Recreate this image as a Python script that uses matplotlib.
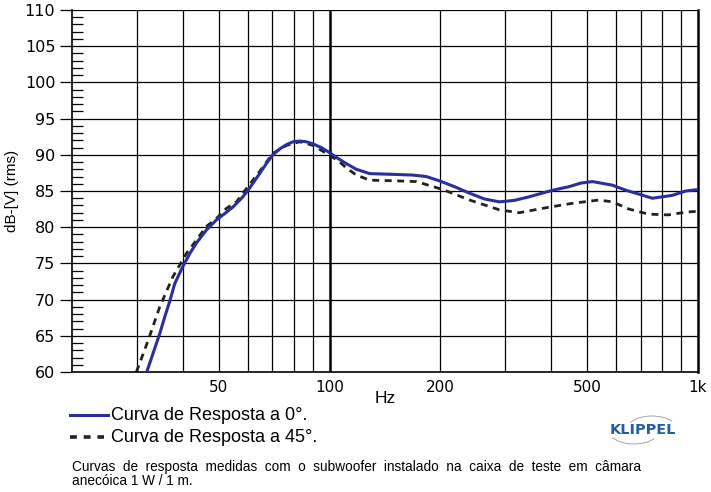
import matplotlib.pyplot as plt
import matplotlib.ticker as mticker
from matplotlib.patches import Arc

plt.rcParams['font.family'] = ['Liberation Sans', 'DejaVu Sans']

# curva a 0 graus
f0 = [31.9, 33.2, 34.6, 35.7, 36.9, 38.0, 39.9, 41.8, 43.5, 46.3, 49.3, 52.0,
      54.7, 57.7, 59.9, 62.0, 64.6, 67.4, 70.2, 73.2, 76.4, 79.6, 83.0, 86.5,
      90.2, 95.0, 100, 105.4, 110.9, 118.2, 128.5, 148.5, 168, 182.9, 198.8,
      218.3, 239.8, 263.2, 289, 317.3, 348, 403, 447, 481.2, 517, 586, 637.2,
      678, 752, 852, 926.4, 1000]
db0 = [60.0, 62.6, 65.3, 67.6, 69.9, 72.2, 74.5, 76.4, 77.8, 79.6, 81.0, 81.9,
       82.8, 84.0, 85.0, 86.1, 87.4, 88.8, 90.0, 90.8, 91.4, 91.8, 91.9, 91.8,
       91.5, 91.0, 90.3, 89.5, 88.8, 88.0, 87.4, 87.3, 87.2, 87.0, 86.4,
       85.6, 84.7, 83.9, 83.5, 83.7, 84.2, 85.1, 85.6, 86.1, 86.3, 85.8, 85.1,
       84.7, 84.0, 84.4, 85.0, 85.2]

# curva a 45 graus
f45 = [29.9, 32.2, 34.6, 37.6, 40.9, 43.5, 46.3, 49.3, 52.5, 55.9, 59.0, 64.6,
       70.2, 76.4, 83.0, 90.2, 98, 105.4, 111, 118.2, 128.5, 151.7, 172, 203,
       240, 289, 327, 388, 456, 538, 586, 650, 735, 830, 935, 1000]
db45 = [60.0, 64.4, 69.0, 73.2, 76.4, 78.2, 80.1, 81.2, 82.6, 83.5, 85.1, 87.7,
        90.2, 91.3, 91.8, 91.3, 90.2, 89.2, 88.2, 87.2, 86.5, 86.4, 86.3, 85.2,
        83.75, 82.4, 82.0, 82.7, 83.3, 83.75, 83.5, 82.5, 81.8, 81.7, 82.1, 82.2]

xticks = [50, 100, 200, 500, 1000]
xlabels = ['50', '100', '200', '500', '1k']
vgrid = [30, 40, 50, 60, 70, 80, 90, 200, 300, 400, 500, 600, 700, 800, 900]

fig = plt.figure(figsize=(7.11, 4.92), dpi=100)
ax = fig.add_axes([0.1013, 0.2439, 0.8804, 0.7358])

ax.set_xscale('log')
ax.set_xlim(20, 1000)
ax.set_ylim(60, 110)

for v in vgrid:
    ax.axvline(v, color='black', lw=0.9, zorder=1)
ax.axvline(100, color='black', lw=1.8, zorder=1)
for h in range(65, 111, 5):
    ax.axhline(h, color='black', lw=0.9, zorder=1)

ax.plot(f0, db0, color='#2b2f9a', lw=2.2, zorder=3, solid_joinstyle='round')
ax.plot(f45, db45, color='#222222', lw=2.0, ls=(0, (2.5, 2)), zorder=2)

ax.set_xticks(xticks)
ax.set_xticklabels(xlabels, family='DejaVu Sans')
ax.xaxis.set_minor_locator(mticker.NullLocator())
ax.xaxis.set_minor_formatter(mticker.NullFormatter())
ax.tick_params(axis='x', length=0, labelsize=11, pad=6)
ax.set_yticks(range(60, 111, 5))
ax.set_yticklabels([str(v) for v in range(60, 111, 5)], family='DejaVu Sans')
ax.set_yticks(range(60, 111, 1), minor=True)
ax.tick_params(axis='y', which='major', length=9, direction='out', labelsize=11.5,
               width=0.9, pad=3)
ax.tick_params(axis='y', which='minor', length=8, direction='in', width=0.9)
ax.set_xlabel('Hz', fontsize=12.5, labelpad=-3)
ax.set_ylabel('dB-[V] (rms)', fontsize=11, labelpad=4)

ax.spines['top'].set_visible(False)
ax.spines['left'].set_linewidth(1.2)
ax.spines['bottom'].set_linewidth(1.2)
ax.spines['right'].set_linewidth(1.8)

# legenda
fig.add_artist(plt.Line2D([70 / 711, 108 / 711], [1 - 415 / 492] * 2,
                          color='#2b2f9a', lw=2.2))
fig.add_artist(plt.Line2D([70 / 711, 104 / 711], [1 - 437 / 492] * 2,
                          color='#222222', lw=2.6, ls=(0, (1.9, 1.9))))
fig.text(111 / 711, 1 - 415 / 492, 'Curva de Resposta a 0°.', fontsize=13, va='center')
fig.text(111 / 711, 1 - 437 / 492, 'Curva de Resposta a 45°.', fontsize=13, va='center')

# logo
fig.text(643 / 711, 1 - 430 / 492, 'KLIPPEL', fontsize=10.4, fontweight='bold',
         family='DejaVu Sans', color='#1f5fa6', ha='center', va='center')
fig.add_artist(Arc((652 / 711, 1 - 428 / 492), 48 / 711, 24 / 492, theta1=25, theta2=160,
                   color='#999999', lw=0.6, transform=fig.transFigure))
fig.add_artist(Arc((634 / 711, 1 - 432 / 492), 48 / 711, 24 / 492, theta1=200, theta2=335,
                   color='#999999', lw=0.6, transform=fig.transFigure))

# nota
fig.text(72 / 711, 1 - 467 / 492,
         'Curvas  de  resposta  medidas  com  o  subwoofer  instalado  na  caixa  de  teste  em  câmara',
         fontsize=9.8, va='center')
fig.text(72 / 711, 1 - 481 / 492, 'anecóica 1 W / 1 m.', fontsize=9.8, va='center')

fig.savefig('out.png', dpi=100)
